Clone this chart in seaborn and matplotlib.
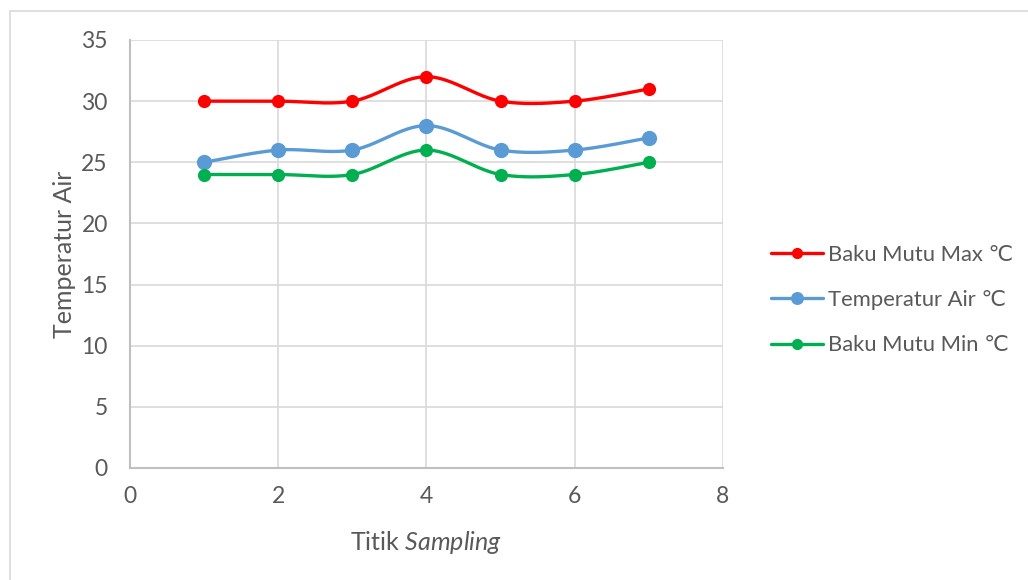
import numpy as np
import pandas as pd
import matplotlib
matplotlib.use("Agg")
import matplotlib.pyplot as plt
import seaborn as sns
from matplotlib.lines import Line2D

titik = [1, 2, 3, 4, 5, 6, 7]
baku_max = [30, 30, 30, 32, 30, 30, 31]
temp_air = [25, 26, 26, 28, 26, 26, 27]
baku_min = [24, 24, 24, 26, 24, 24, 25]
labels = ["Baku Mutu Max \u2103", "Temperatur Air \u2103", "Baku Mutu Min \u2103"]
colors = ["#FF0000", "#5B9BD5", "#00B050"]
msizes = [9.5, 11, 9.5]

sns.set_theme(style="white")
plt.rcParams["font.family"] = ["Lato", "DejaVu Sans"]
plt.rcParams["mathtext.fontset"] = "custom"
plt.rcParams["mathtext.it"] = "Lato:italic"
plt.rcParams["mathtext.rm"] = "Lato"

TXT = "#595959"


def smooth(xs, ys, n=40):
    xs = np.asarray(xs, float)
    ys = np.asarray(ys, float)
    P = np.column_stack([xs, ys])
    out = []
    m = len(P)
    for i in range(m - 1):
        p0 = P[i - 1] if i > 0 else P[i]
        p1 = P[i]
        p2 = P[i + 1]
        p3 = P[i + 2] if i + 2 < m else P[i + 1]
        c1 = p1 + (p2 - p0) / 6.0
        c2 = p2 - (p3 - p1) / 6.0
        t = np.linspace(0, 1, n)[:, None]
        seg = ((1 - t) ** 3) * p1 + 3 * ((1 - t) ** 2) * t * c1 + 3 * (1 - t) * t ** 2 * c2 + t ** 3 * p2
        out.append(seg if i == 0 else seg[1:])
    c = np.vstack(out)
    return c[:, 0], c[:, 1]


fig = plt.figure(figsize=(10.28, 5.8), dpi=100)
ax = fig.add_axes([130 / 1028, 1 - 468 / 580, (723 - 130) / 1028, (468 - 40) / 580])

series = [baku_max, temp_air, baku_min]
handles = []
for vals, lab, col, ms in zip(series, labels, colors, msizes):
    sx, sy = smooth(titik, vals)
    ax.plot(sx, sy, color=col, lw=2.4, zorder=3, solid_capstyle="round")
    df = pd.DataFrame({"x": titik, "y": vals})
    sns.scatterplot(data=df, x="x", y="y", ax=ax, color=col, s=ms ** 2,
                    edgecolor=col, linewidth=0, zorder=4, legend=False)
    handles.append(Line2D([0], [0], color=col, lw=2.4, marker="o", markersize=ms * 0.85,
                          markeredgewidth=0))

ax.set_xlim(0, 8)
ax.set_ylim(0, 35)
ax.set_xticks([0, 2, 4, 6, 8])
ax.set_yticks([0, 5, 10, 15, 20, 25, 30, 35])
ax.grid(True, color="#D9D9D9", lw=1.2)
ax.set_axisbelow(True)
for s in ["top", "right"]:
    ax.spines[s].set_visible(False)
for s in ["left", "bottom"]:
    ax.spines[s].set_color("#BFBFBF")
    ax.spines[s].set_linewidth(1.5)
ax.tick_params(axis="both", length=0, labelsize=16.5, labelcolor=TXT)
ax.tick_params(axis="y", pad=16)
ax.tick_params(axis="x", pad=13)
ax.set_xlabel("Titik $\\mathit{Sampling}$", fontsize=18, color=TXT, labelpad=16)
ax.set_ylabel("Temperatur Air", fontsize=18, color=TXT, labelpad=4)

leg = fig.legend(handles, labels, loc="center left", bbox_to_anchor=(751 / 1028, 1 - 300 / 580),
                 frameon=False, fontsize=15.8, handlelength=2.4, handletextpad=0.2,
                 labelspacing=1.15, labelcolor=TXT)

fig.add_artist(Line2D([9.5 / 1028, 9.5 / 1028], [0, 1 - 11 / 580], transform=fig.transFigure,
                      color="#D9D9D9", lw=1.2))
fig.add_artist(Line2D([9.5 / 1028, 1], [1 - 11 / 580, 1 - 11 / 580], transform=fig.transFigure,
                      color="#D9D9D9", lw=1.2))

fig.savefig("out.png", dpi=100, facecolor="white")
